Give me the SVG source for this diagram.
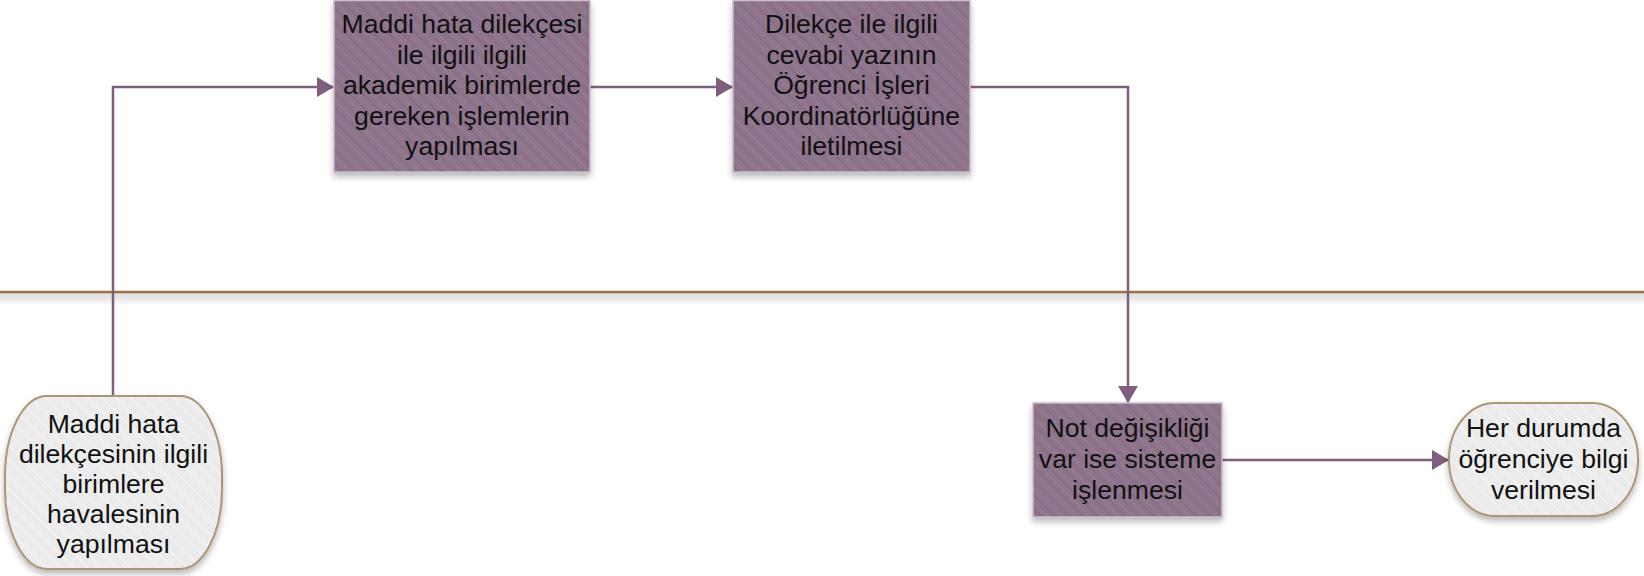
<svg xmlns="http://www.w3.org/2000/svg" width="1644" height="576" viewBox="0 0 1644 576">
<style>
.box{fill:url(#hatchBox);stroke:#cbbcca;stroke-width:1.5}
.term{fill:url(#hatchTerm);stroke:#ad9675;stroke-width:2}
.lbl{font-family:"Liberation Sans",Arial,sans-serif;font-size:26.6px;fill:#111;text-anchor:middle}
.conn{fill:none;stroke:#7f5f7d;stroke-width:2.5}
</style>
<defs>
<pattern id="hatchBox" patternUnits="userSpaceOnUse" width="10" height="10" patternTransform="rotate(-45)">
<rect width="10" height="10" fill="#8e748c"/>
<rect x="0" y="0" width="1.6" height="10" fill="#866c83"/>
<rect x="5" y="0" width="1.2" height="10" fill="#947b92"/>
</pattern>
<pattern id="hatchTerm" patternUnits="userSpaceOnUse" width="10" height="10" patternTransform="rotate(-45)">
<rect width="10" height="10" fill="#ebebeb"/>
<rect x="0" y="0" width="1.5" height="10" fill="#f4f4f4"/>
</pattern>
<linearGradient id="laneShadow" x1="0" y1="0" x2="0" y2="1">
<stop offset="0" stop-color="#dedede"/>
<stop offset="0.6" stop-color="#ececec"/>
<stop offset="1" stop-color="#ffffff"/>
</linearGradient>
<filter id="shadow" x="-10%" y="-10%" width="125%" height="130%">
<feDropShadow dx="0" dy="4" stdDeviation="3" flood-color="#000" flood-opacity="0.28"/>
</filter>
<marker id="arrow" markerUnits="userSpaceOnUse" markerWidth="17" markerHeight="20" refX="17" refY="10" orient="auto">
<path d="M0,0 L17,10 L0,20 z" fill="#7f5f7d"/>
</marker>
</defs>

<g id="swimlane">
<rect x="0" y="293" width="1644" height="12" fill="url(#laneShadow)"/>
<line x1="0" y1="292" x2="1644" y2="292" stroke="#9b7245" stroke-width="2.5"/>
</g>

<g id="connectors">
<path class="conn" d="M113,396 V87 H334" marker-end="url(#arrow)"/>
<path class="conn" d="M590,87 H733" marker-end="url(#arrow)"/>
<path class="conn" d="M970,87 H1128 V403" marker-end="url(#arrow)"/>
<path class="conn" d="M1222,460 H1449" marker-end="url(#arrow)"/>
</g>

<g id="node-start">
<rect class="term" x="5" y="396" width="217" height="173" rx="42" ry="80" filter="url(#shadow)"/>
<text class="lbl"><tspan x="113.5" y="433">Maddi hata</tspan><tspan x="113.5" y="463">dilekçesinin ilgili</tspan><tspan x="113.5" y="493">birimlere</tspan><tspan x="113.5" y="523">havalesinin</tspan><tspan x="113.5" y="553">yapılması</tspan></text>
</g>

<g id="node-akademik">
<rect class="box" x="334" y="0.5" width="256" height="171.5" filter="url(#shadow)"/>
<text class="lbl"><tspan x="462" y="33">Maddi hata dilekçesi</tspan><tspan x="462" y="63.5">ile ilgili ilgili</tspan><tspan x="462" y="94">akademik birimlerde</tspan><tspan x="462" y="124.5">gereken işlemlerin</tspan><tspan x="462" y="155">yapılması</tspan></text>
</g>

<g id="node-cevap">
<rect class="box" x="733" y="0.5" width="237" height="171.5" filter="url(#shadow)"/>
<text class="lbl"><tspan x="851.5" y="33">Dilekçe ile ilgili</tspan><tspan x="851.5" y="63.5">cevabi yazının</tspan><tspan x="851.5" y="94">Öğrenci İşleri</tspan><tspan x="851.5" y="124.5">Koordinatörlüğüne</tspan><tspan x="851.5" y="155">iletilmesi</tspan></text>
</g>

<g id="node-not">
<rect class="box" x="1033" y="403" width="189" height="114" filter="url(#shadow)"/>
<text class="lbl"><tspan x="1127.5" y="437">Not değişikliği</tspan><tspan x="1127.5" y="468">var ise sisteme</tspan><tspan x="1127.5" y="499">işlenmesi</tspan></text>
</g>

<g id="node-end">
<rect class="term" x="1449" y="403" width="189" height="113" rx="46" ry="56" filter="url(#shadow)"/>
<text class="lbl"><tspan x="1543.5" y="437">Her durumda</tspan><tspan x="1543.5" y="468">öğrenciye bilgi</tspan><tspan x="1543.5" y="499">verilmesi</tspan></text>
</g>
</svg>
